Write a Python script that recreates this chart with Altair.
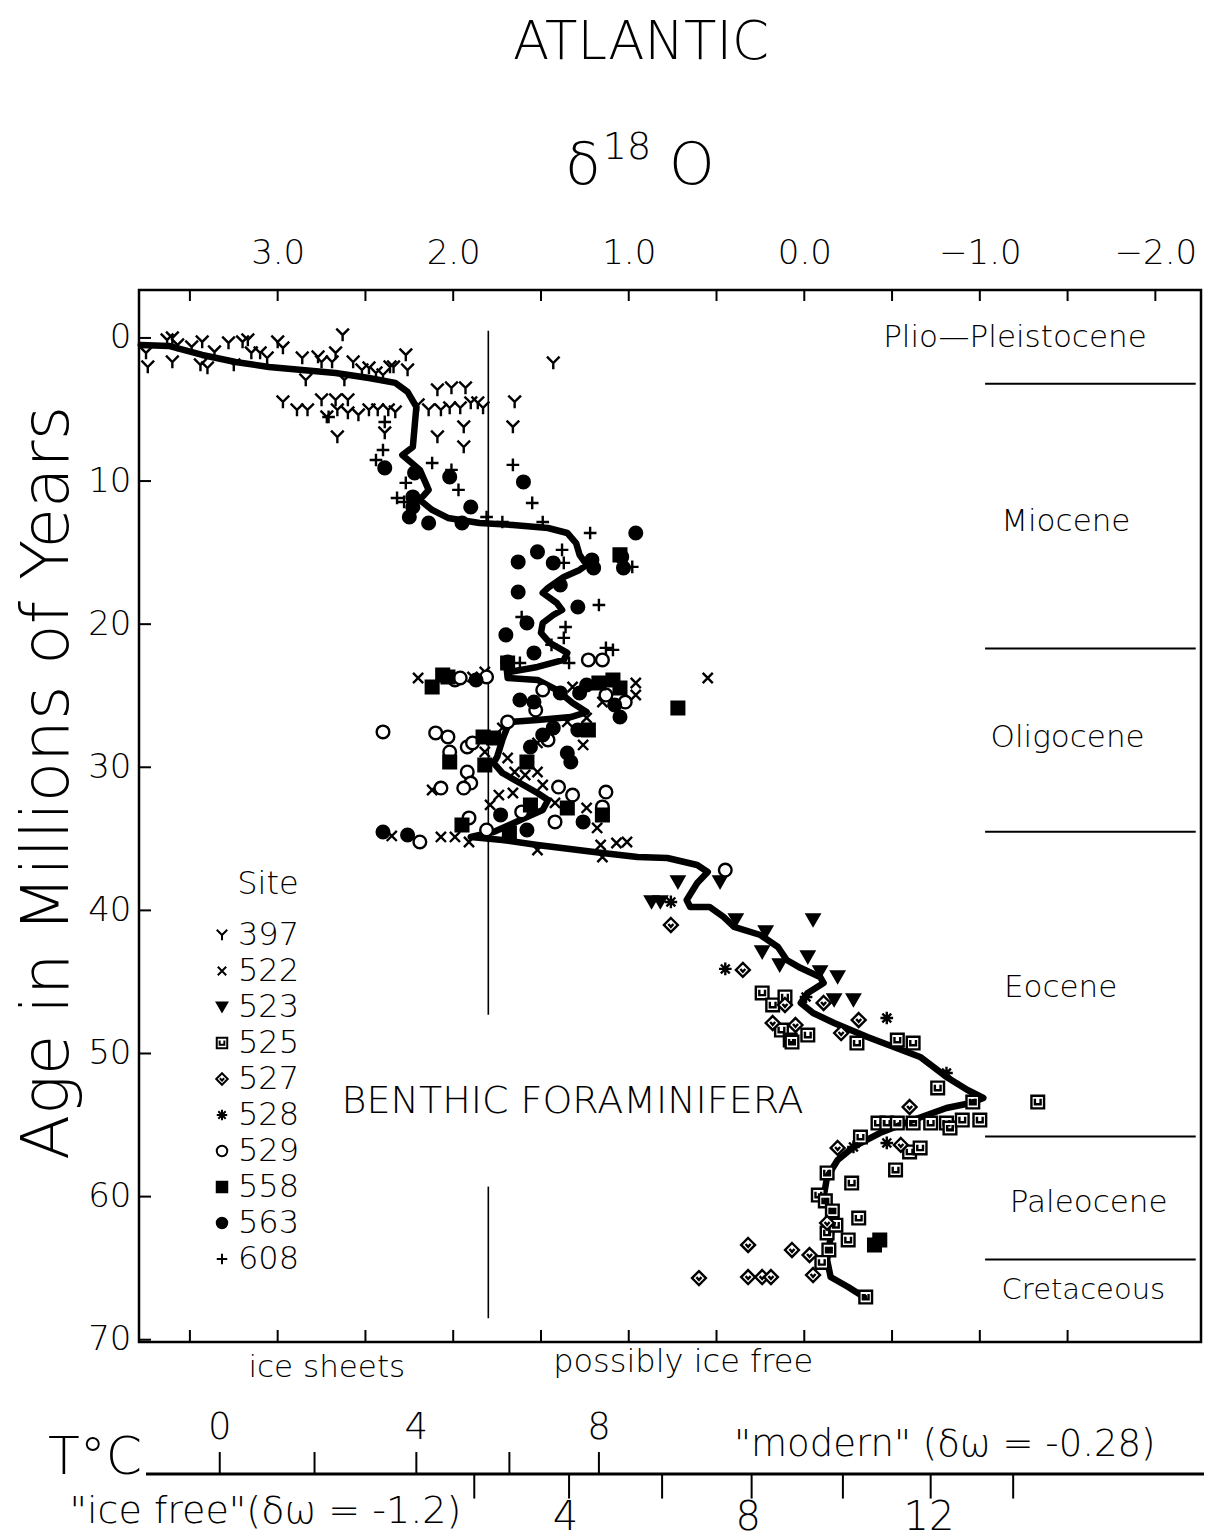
import altair as alt
import pandas as pd

FONT = "DejaVu Sans"
FW = 200

# ---------------- smoothed curve (delta18O, age Ma) ----------------
curve_d18o = [3.78,3.62,3.43,3.24,3.05,2.86,2.67,2.48,2.33,2.26,
              2.21,2.22,2.23,2.29,2.19,2.14,2.19,2.12,2.03,1.85,
              1.66,1.46,1.35,1.30,1.28,1.24,1.28,1.37,1.46,1.49,
              1.41,1.38,1.43,1.49,1.50,1.45,1.35,1.37,1.52,1.68,
              1.70,1.69,1.52,1.41,1.32,1.24,1.33,1.52,1.68,1.72,
              1.75,1.77,1.72,1.62,1.52,1.46,1.49,1.58,1.68,1.77,
              1.85,1.90,1.72,1.52,1.15,0.95,0.78,0.61,0.55,0.61,
              0.67,0.65,0.54,0.46,0.40,0.25,0.15,0.10,0.02,-0.09,
              -0.11,-0.02,0.02,-0.05,-0.17,-0.36,-0.51,-0.66,-0.81,-0.93,
              -1.02,-0.95,-0.81,-0.62,-0.43,-0.28,-0.19,-0.13,-0.11,-0.17,
              -0.15,-0.13,-0.15,-0.25,-0.34]
curve_age = [0.49,0.56,1.19,1.68,2.03,2.24,2.45,2.80,3.14,3.77,
             4.82,6.22,7.62,8.18,9.22,10.62,11.32,12.02,12.58,12.93,
             13.07,13.28,13.63,14.33,15.16,15.86,16.21,16.70,17.47,17.82,
             18.52,19.01,19.36,19.92,20.61,21.31,22.01,22.50,22.99,23.34,
             22.57,23.76,23.90,24.60,25.51,26.14,26.49,26.69,26.83,28.09,
             29.28,29.70,30.40,31.10,31.80,32.29,32.98,33.47,34.03,34.52,
             34.73,34.87,35.08,35.43,35.99,36.27,36.34,36.83,37.32,38.09,
             39.27,39.76,39.76,40.46,41.16,41.72,42.56,43.47,44.03,44.65,
             45.07,45.77,46.47,47.17,47.87,48.85,49.55,50.24,51.64,52.55,
             53.11,53.46,53.81,54.65,55.56,56.53,57.44,58.63,60.03,61.15,
             62.82,64.43,65.62,66.32,67.02]

# ---------------- site data ----------------
d397 = [3.75,3.74,3.63,3.60,3.60,3.57,3.49,3.43,3.44,3.40,3.36,3.28,3.25,3.20,3.17,3.15,3.10,3.06,3.00,2.97,
        2.86,2.84,2.77,2.75,2.69,2.67,2.63,2.62,2.57,2.52,2.48,2.44,2.40,2.34,2.27,2.26,2.36,
        2.97,2.89,2.83,2.75,2.72,2.67,2.66,2.60,2.60,2.54,2.48,2.43,2.37,2.33,2.66,2.39,2.09,2.01,1.93,
        2.07,2.02,1.96,1.90,1.86,1.83,2.09,1.94,1.94,1.43,1.65,1.66,2.20,2.14]
a397 = [1.05,2.03,0.14,0.00,1.68,0.49,0.63,0.28,1.89,2.10,0.98,0.35,1.89,0.28,0.14,1.05,1.05,1.40,0.28,0.70,
        1.40,2.94,1.33,1.68,1.68,1.05,-0.21,2.94,1.68,2.24,2.10,2.45,2.59,2.03,1.19,2.24,2.03,
        4.47,5.03,5.03,4.33,5.52,4.33,5.03,4.33,5.24,5.38,5.03,5.03,5.03,5.17,6.92,6.64,3.63,3.49,3.49,
        5.03,4.89,4.89,4.54,4.54,4.89,6.92,6.22,7.62,1.75,4.47,6.22,4.68,5.03]

d522 = [2.20,1.89,1.82,1.32,0.96,0.96,1.15,1.24,1.35,1.26,1.52,1.72,1.82,1.69,1.65,1.59,1.52,1.49,1.66,1.74,
        1.79,1.42,1.24,1.18,2.12,2.07,1.99,1.91,1.52,1.16,1.15,1.07,1.01,0.55,2.35]
a522 = [23.76,23.69,23.34,24.39,24.11,24.95,25.44,26.55,26.83,28.44,28.30,27.25,28.93,29.35,30.33,30.54,30.33,31.24,31.80,31.94,
        32.63,32.49,32.84,34.24,31.59,34.87,34.87,35.22,35.78,35.43,36.27,35.29,35.22,23.76,34.80]

d523 = [0.72,0.48,0.87,0.82,0.39,-0.05,0.22,0.24,-0.02,0.14,-0.09,-0.19,-0.17,-0.28]
a523 = [38.02,38.02,39.41,39.41,40.67,40.67,41.51,42.91,43.26,43.82,44.30,44.65,46.26,46.26]

d525 = [0.24,0.18,0.11,0.13,0.08,-0.02,-0.30,-0.53,-0.62,-0.76,-0.96,-1.33,-0.42,-0.47,-0.53,-0.62,-0.72,-0.81,-0.83,-0.90,
        -1.00,-0.32,-0.60,-0.66,-0.52,-0.27,-0.08,-0.31,-0.13,-0.25,-0.13,-0.14,-0.35,0.07,-0.12,-0.16,-0.10,-0.18]
a525 = [45.77,46.61,46.05,48.36,49.06,48.71,49.27,49.06,49.27,52.41,53.39,53.39,54.86,54.86,54.86,54.86,54.86,54.86,55.21,54.65,
        54.65,55.84,56.88,56.60,58.14,59.05,59.89,61.50,58.35,63.03,62.54,63.73,67.02,49.20,60.30,61.00,64.60,62.00]

d527 = [0.76,0.35,-0.11,0.18,0.05,-0.31,-0.21,0.11,-0.60,-0.55,-0.19,0.32,0.07,-0.03,0.60,0.32,0.24,0.19,-0.05,-0.13]
a527 = [41.02,44.16,46.47,47.87,48.01,47.66,48.57,46.61,53.74,56.39,56.60,63.38,63.73,64.08,65.69,65.62,65.62,65.62,65.48,61.84]

d528 = [0.76,0.45,-0.01,-0.47,-0.81,-0.47,-0.28]
a528 = [39.41,44.09,46.05,47.52,51.36,56.25,56.53]

d529 = [2.40,2.10,2.03,2.02,1.92,1.89,1.92,1.90,1.94,2.07,1.99,1.96,1.81,1.23,1.15,1.49,1.53,1.46,1.13,1.02,
        1.69,1.40,1.32,1.13,1.15,1.42,1.61,1.91,2.19,1.81,0.45]
a529 = [27.53,27.60,27.88,28.93,28.58,28.30,30.33,31.10,31.45,31.45,23.90,23.76,23.69,22.50,22.50,24.60,26.00,28.09,24.95,25.44,
        26.83,31.38,31.94,31.73,32.77,33.82,33.12,33.54,35.22,34.38,37.18]

d558 = [2.12,2.06,2.03,1.69,1.17,1.09,1.05,0.72,1.23,1.83,1.77,2.02,1.82,1.58,1.56,1.15,1.95,1.68,1.35,1.05,-0.43,-0.40]
a558 = [24.39,23.55,23.69,22.71,24.11,23.90,24.46,25.86,27.39,27.88,27.95,29.63,29.84,29.63,32.63,33.33,34.03,34.59,32.84,15.16,63.03,63.38]

d563 = [2.39,2.23,2.23,2.25,2.14,2.02,1.90,1.60,1.95,2.22,0.96,1.52,1.63,1.43,1.21,1.04,1.03,1.20,1.39,1.63,
        1.29,1.58,1.70,1.54,1.69,1.87,1.62,1.54,1.39,1.28,1.24,1.05,1.08,1.29,1.49,1.43,1.56,1.35,1.33,1.26,
        2.40,2.26,1.73,1.58]
a563 = [9.08,11.11,11.81,12.51,12.93,9.71,11.81,10.06,12.93,9.43,13.63,14.95,15.65,15.72,15.51,15.30,16.07,16.07,17.26,17.75,
        18.80,19.92,20.75,22.01,22.64,23.90,25.30,25.44,24.81,24.81,24.25,26.49,25.65,27.39,27.74,27.25,28.58,29.00,29.63,33.82,
        34.52,34.73,33.33,34.38]

d608 = [2.40,2.44,2.27,2.32,2.28,2.12,2.01,1.97,1.66,1.55,1.49,1.81,1.72,1.38,1.37,0.98,1.17,1.61,1.36,1.37,
        1.44,1.13,1.09,1.34,1.62,1.22,2.71,2.39]
a608 = [7.83,8.53,10.13,11.18,11.46,8.74,9.22,10.62,8.87,11.53,12.86,12.51,12.86,14.81,15.72,16.00,18.66,19.50,20.20,20.96,
        21.45,21.66,21.80,22.71,22.71,13.63,5.52,5.87]

sites = ["397", "522", "523", "525", "527", "528", "529", "558", "563", "608"]
site_d = [d397, d522, d523, d525, d527, d528, d529, d558, d563, d608]
site_a = [a397, a522, a523, a525, a527, a528, a529, a558, a563, a608]

shape_range = [
    "M-1,-1L0,0L1,-1M0,0L0,1",
    "M-0.8,-0.8L0.8,0.8M-0.8,0.8L0.8,-0.8",
    "triangle-down",
    "M-1,-1L1,-1L1,1L-1,1Z M-0.45,-0.5L-0.45,0.35L0.45,0.35L0.45,-0.5",
    "M0,-1.1L1.1,0L0,1.1L-1.1,0Z M-0.4,-0.15L0,0.3L0.4,-0.15",
    "M-1,0L1,0M0,-1L0,1M-0.7,-0.7L0.7,0.7M-0.7,0.7L0.7,-0.7",
    "circle",
    "square",
    "circle",
    "M-1,0L1,0M0,-1L0,1",
]
fill_range = ["transparent", "transparent", "black", "white", "white",
              "transparent", "white", "black", "black", "transparent"]
stroke_range = ["black"] * len(sites)

# epochs
epoch_names = ["Plio—Pleistocene", "Miocene", "Oligocene", "Eocene", "Paleocene", "Cretaceous"]
epoch_label_d18o = [-1.20, -1.49, -1.50, -1.46, -1.62, -1.59]
epoch_label_age = [0.0, 12.86, 27.95, 45.42, 60.45, 66.53]
epoch_label_size = [31, 31, 31, 31, 31, 29]
epoch_bound_age = [3.2, 21.7, 34.5, 55.8, 64.4]
epoch_bound_from = -1.03
epoch_bound_to = -2.23

# axis ticks
top_tick_vals = [3.5, 3.0, 2.5, 2.0, 1.5, 1.0, 0.5, 0.0, -0.5, -1.0, -1.5, -2.0]
bottom_tick_vals = [3.5, 3.0, 2.5, 2.0, 1.5, 1.0, 0.5, 0.0, -0.5, -1.0, -1.5]
label_vals = [3.0, 2.0, 1.0, 0.0, -1.0, -2.0]
age_ticks = [0, 10, 20, 30, 40, 50, 60, 70]

# temperature scales (positions in delta18O units)
modern_tick_d18o = [3.33, 2.79, 2.21, 1.68, 1.17]
modern_label_T = ["0", "4", "8"]
modern_label_d18o = [3.33, 2.21, 1.17]
icefree_tick_d18o = [1.88, 1.34, 0.81, 0.30, -0.22, -0.72, -1.19]
icefree_label_T = ["4", "8", "12"]
icefree_label_d18o = [1.36, 0.32, -0.71]

# ---------------- scales / axes ----------------
xs = alt.Scale(domain=[-2.26, 3.79], reverse=True, nice=False, zero=False)
ys = alt.Scale(domain=[-3.35, 70.16], reverse=True, nice=False, zero=False)
xaxis = alt.Axis(orient="top", values=label_vals, format=".1f", labelFontSize=34, labelFont=FONT,
                 labelFontWeight=FW, labelPadding=20, ticks=False, domain=False, grid=False, title=None,
                 labelColor="black")
yaxis = alt.Axis(orient="left", values=age_ticks, labelFontSize=34, labelFont=FONT, labelFontWeight=FW,
                 labelPadding=8, ticks=False, domain=False, grid=False, title=None, labelColor="black")


def X(f):
    return alt.X(f, type="quantitative", scale=xs, axis=xaxis)


def Y(f):
    return alt.Y(f, type="quantitative", scale=ys, axis=yaxis)


def txt(**kw):
    base = dict(font=FONT, fontWeight=FW, align="center", baseline="middle", color="black")
    base.update(kw)
    return base


# ---------------- dataframes ----------------
pts = pd.concat([pd.DataFrame({"d18o": d, "age": a, "site": s}) for s, d, a in zip(sites, site_d, site_a)],
                ignore_index=True)
curve = pd.DataFrame({"d18o": curve_d18o, "age": curve_age, "idx": range(len(curve_d18o))})

leg = alt.Legend(orient="none", legendX=67, legendY=629, title=None, labelFontSize=32, labelFont=FONT,
                 labelFontWeight=FW, labelColor="black", symbolSize=110, symbolStrokeWidth=2,
                 rowPadding=4, labelOffset=0, padding=0)

points = alt.Chart(pts).mark_point(strokeWidth=2.4, opacity=1, size=160).encode(
    x=X("d18o"), y=Y("age"),
    shape=alt.Shape("site:N", scale=alt.Scale(domain=sites, range=shape_range), legend=leg),
    fill=alt.Fill("site:N", scale=alt.Scale(domain=sites, range=fill_range), legend=leg),
    stroke=alt.Stroke("site:N", scale=alt.Scale(domain=sites, range=stroke_range), legend=leg),
)

line = alt.Chart(curve).mark_line(color="black", strokeWidth=6.5, strokeJoin="round", strokeCap="round").encode(
    x=X("d18o"), y=Y("age"), order=alt.Order("idx:Q"))

top_ticks = alt.Chart(pd.DataFrame({"d18o": top_tick_vals})).mark_rule(color="black", strokeWidth=2).encode(
    x=X("d18o"), y=alt.value(0), y2=alt.value(11))
bottom_ticks = alt.Chart(pd.DataFrame({"d18o": bottom_tick_vals})).mark_rule(color="black", strokeWidth=2).encode(
    x=X("d18o"), y=alt.value(1052), y2=alt.value(1040))
left_ticks = alt.Chart(pd.DataFrame({"age": age_ticks})).mark_rule(color="black", strokeWidth=2).encode(
    y=Y("age"), x=alt.value(0), x2=alt.value(12))

vline = alt.Chart(pd.DataFrame({"d18o": [1.8, 1.8], "a0": [-0.5, 59.3], "a1": [47.3, 68.5]})).mark_rule(
    color="black", strokeWidth=1.6).encode(x=X("d18o"), y=Y("a0"), y2="a1")

ep_lines = alt.Chart(pd.DataFrame({"age": epoch_bound_age, "x0": epoch_bound_from, "x1": epoch_bound_to})).mark_rule(
    color="black", strokeWidth=2).encode(x=X("x0"), x2="x1", y=Y("age"))
ep_text = alt.Chart(pd.DataFrame({"t": epoch_names, "d18o": epoch_label_d18o, "age": epoch_label_age,
                                  "fs": epoch_label_size})).mark_text(**txt()).encode(
    x=X("d18o"), y=Y("age"), text="t:N", size=alt.Size("fs:Q", scale=None))

# free texts
txt_t = ["ATLANTIC", "δ", "18", "O", "BENTHIC  FORAMINIFERA", "ice sheets", "possibly ice free",
         "T°C", "\"modern\"  (δω = -0.28)", "\"ice free\"(δω = -1.2)"]
txt_d = [0.93, 1.26, 1.01, 0.64, 1.32, 2.72, 0.69, 4.04, -0.80, 3.07]
txt_a = [-20.6, -11.95, -13.28, -11.95, 53.39, 71.98, 71.56, 78.27, 77.36, 82.04]
txt_fs = [53, 58, 38, 58, 38, 31, 32, 52, 37, 38]
texts = alt.Chart(pd.DataFrame({"t": txt_t, "d18o": txt_d, "age": txt_a, "fs": txt_fs})).mark_text(**txt()).encode(
    x=X("d18o"), y=Y("age"), text="t:N", size=alt.Size("fs:Q", scale=None))

site_title = alt.Chart(pd.DataFrame({"t": ["Site"], "d18o": [3.23], "age": [38.16]})).mark_text(
    **txt(fontSize=32, align="left")).encode(x=X("d18o"), y=Y("age"), text="t:N")

ytitle = alt.Chart(pd.DataFrame({"t": ["Age in Millions of Years"], "d18o": [4.31], "age": [31.1]})).mark_text(
    **txt(fontSize=66, angle=270)).encode(x=X("d18o"), y=Y("age"), text="t:N")

# temperature scales
tline = alt.Chart(pd.DataFrame({"x0": [3.75], "x1": [-2.28], "age": [79.39]})).mark_rule(
    color="black", strokeWidth=3).encode(x=X("x0"), x2="x1", y=Y("age"))
mod_ticks = alt.Chart(pd.DataFrame({"d18o": modern_tick_d18o, "a0": 77.85, "a1": 79.39})).mark_rule(
    color="black", strokeWidth=2).encode(x=X("d18o"), y=Y("a0"), y2="a1")
ice_ticks = alt.Chart(pd.DataFrame({"d18o": icefree_tick_d18o, "a0": 79.39, "a1": 81.1})).mark_rule(
    color="black", strokeWidth=2).encode(x=X("d18o"), y=Y("a0"), y2="a1")
mod_lab = alt.Chart(pd.DataFrame({"t": modern_label_T, "d18o": modern_label_d18o, "age": 76.17})).mark_text(
    **txt(fontSize=37)).encode(x=X("d18o"), y=Y("age"), text="t:N")
ice_lab = alt.Chart(pd.DataFrame({"t": icefree_label_T, "d18o": icefree_label_d18o, "age": 82.46})).mark_text(
    **txt(fontSize=40)).encode(x=X("d18o"), y=Y("age"), text="t:N")

chart = alt.layer(
    vline, ep_lines, ep_text, line, points, top_ticks, bottom_ticks, left_ticks,
    texts, site_title, ytitle, tline, mod_ticks, ice_ticks, mod_lab, ice_lab,
).properties(
    width=1062, height=1052,
    padding={"left": 131, "top": 282, "right": 3, "bottom": 198},
    autosize=alt.AutoSizeParams(type="none"),
    background="white",
).configure_view(stroke="black", strokeWidth=2.5)

chart.save("out.html", embed_options={"renderer": "svg", "actions": False})
